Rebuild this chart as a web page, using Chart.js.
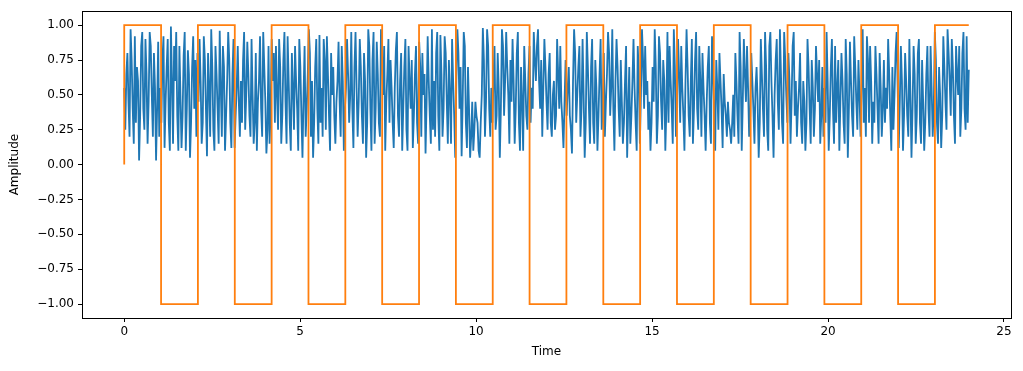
<!DOCTYPE html>
<html>
<head>
<meta charset="utf-8">
<script src="https://cdn.jsdelivr.net/npm/chart.js@4/dist/chart.umd.min.js"></script>
<style>
  body { margin: 0; background: #fff; }
</style>
</head>
<body>
<canvas id="signalChart" width="1023" height="371"></canvas>
<script>
// noisy signal (evenly spaced samples from t=0 to t=24)
const signalStart = 0;
const signalEnd = 24;
const signalValues = [
    0.55,0.25,0.65,0.80,0.45,0.20,0.97,0.75,0.40,0.15,0.92,0.30,0.70,0.60,0.03,0.35,0.85,0.95,0.40,0.25,0.90,0.65,0.15,0.45,0.95,0.85,0.50,0.20,0.80,0.55,0.03,0.40,0.88,0.20,0.55,0.30,0.75,0.92,0.12,0.45,0.70,0.90,0.30,0.10,0.99,0.60,0.15,0.85,0.60,0.95,0.35,0.10,0.85,0.50,0.12,0.35,0.78,0.95,0.10,0.40,0.82,0.65,0.05,0.30,0.70,0.92,0.40,0.75,0.20,0.80,
    0.45,0.90,0.60,0.15,0.30,0.92,0.75,0.40,0.06,0.80,0.55,0.20,0.97,0.70,0.25,0.10,0.85,0.65,0.40,0.15,0.96,0.55,0.20,0.85,0.70,0.10,0.35,0.60,0.95,0.75,0.30,0.12,0.65,0.90,0.12,0.35,0.55,0.85,0.45,0.20,0.60,0.30,0.75,0.95,0.25,0.50,0.88,0.65,0.35,0.20,0.90,0.50,0.15,0.30,0.80,0.10,0.45,0.60,0.92,0.40,0.20,0.95,0.70,0.45,0.08,0.25,0.85,0.15,0.40,0.90,0.60,0.80,0.30,0.85,
    0.50,0.25,0.90,0.70,0.15,0.35,0.75,0.95,0.45,0.15,0.92,0.60,0.30,0.10,0.80,0.55,0.25,0.85,0.60,0.40,0.10,0.90,0.70,0.35,0.05,0.50,0.85,0.20,0.40,0.65,0.97,0.80,0.20,0.60,0.05,0.30,0.70,0.90,0.40,0.15,0.93,0.30,0.55,0.20,0.90,0.75,0.25,0.92,0.65,0.35,0.10,0.80,0.50,0.70,0.35,0.15,0.45,0.60,0.88,0.45,0.20,0.85,0.60,0.10,0.40,0.55,0.90,0.65,0.30,0.50,0.95,0.40,0.12,0.70,
    0.95,0.55,0.20,0.45,0.90,0.70,0.35,0.15,0.80,0.60,0.05,0.30,0.97,0.85,0.40,0.10,0.75,0.95,0.15,0.40,0.88,0.65,0.30,0.20,0.97,0.75,0.50,0.85,0.10,0.45,0.65,0.90,0.30,0.75,0.55,0.30,0.12,0.55,0.82,0.95,0.35,0.20,0.60,0.80,0.10,0.40,0.70,0.90,0.25,0.10,0.85,0.60,0.40,0.75,0.12,0.35,0.65,0.85,0.30,0.15,0.88,0.70,0.20,0.80,0.50,0.65,0.08,0.45,0.92,0.60,0.35,0.15,0.97,0.25,
    0.60,0.20,0.80,0.95,0.35,0.10,0.93,0.65,0.20,0.40,0.92,0.80,0.45,0.15,0.75,0.50,0.15,0.90,0.60,0.35,0.05,0.60,0.97,0.80,0.40,0.70,0.06,0.45,0.95,0.85,0.30,0.12,0.70,0.40,0.05,0.20,0.45,0.10,0.25,0.45,0.35,0.30,0.10,0.05,0.30,0.50,0.98,0.75,0.20,0.45,0.97,0.85,0.40,0.20,0.55,0.30,0.60,0.85,0.25,0.35,0.80,0.55,0.05,0.40,0.97,0.85,0.35,0.60,0.95,0.70,0.50,0.15,0.75,0.45,
    0.90,0.60,0.15,0.40,0.80,0.95,0.30,0.10,0.70,0.45,0.10,0.85,0.60,0.35,0.25,0.65,0.85,0.30,0.55,0.40,0.95,0.75,0.60,0.85,0.97,0.60,0.40,0.75,0.20,0.55,0.90,0.70,0.45,0.25,0.65,0.80,0.30,0.20,0.50,0.60,0.25,0.35,0.90,0.65,0.40,0.85,0.45,0.30,0.12,0.45,0.75,0.35,0.55,0.70,0.35,0.25,0.08,0.60,0.97,0.80,0.30,0.50,0.70,0.85,0.20,0.40,0.90,0.50,0.05,0.30,0.95,0.70,0.40,0.15,
    0.70,0.90,0.30,0.15,0.75,0.55,0.10,0.35,0.65,0.90,0.25,0.40,0.80,0.20,0.45,0.65,0.95,0.80,0.35,0.55,0.97,0.40,0.10,0.60,0.90,0.70,0.40,0.20,0.75,0.45,0.15,0.30,0.60,0.85,0.05,0.40,0.70,0.15,0.35,0.60,0.90,0.55,0.30,0.10,0.85,0.65,0.15,0.50,0.97,0.75,0.40,0.85,0.50,0.60,0.25,0.45,0.10,0.30,0.70,0.45,0.97,0.70,0.15,0.35,0.92,0.80,0.45,0.25,0.75,0.60,0.10,0.40,0.95,0.30,
    0.85,0.60,0.40,0.15,0.97,0.70,0.20,0.45,0.90,0.65,0.30,0.85,0.55,0.35,0.10,0.60,0.97,0.70,0.35,0.20,0.60,0.90,0.15,0.40,0.75,0.95,0.40,0.25,0.85,0.60,0.20,0.80,0.55,0.35,0.10,0.45,0.70,0.85,0.30,0.15,0.92,0.65,0.40,0.10,0.75,0.55,0.25,0.80,0.60,0.40,0.12,0.65,0.45,0.35,0.20,0.45,0.30,0.25,0.15,0.30,0.50,0.20,0.80,0.60,0.35,0.15,0.95,0.70,0.10,0.45,0.90,0.65,0.45,0.85,
    0.55,0.20,0.35,0.80,0.60,0.40,0.15,0.55,0.70,0.45,0.05,0.30,0.90,0.65,0.40,0.20,0.95,0.70,0.25,0.10,0.85,0.95,0.60,0.35,0.05,0.50,0.75,0.90,0.45,0.25,0.97,0.65,0.30,0.15,0.95,0.75,0.50,0.30,0.80,0.60,0.15,0.45,0.85,0.95,0.35,0.60,0.20,0.40,0.55,0.80,0.30,0.15,0.60,0.45,0.10,0.30,0.90,0.70,0.40,0.15,0.75,0.55,0.20,0.40,0.85,0.65,0.45,0.75,0.15,0.35,0.70,0.20,0.55,0.30,
    0.95,0.60,0.10,0.35,0.70,0.90,0.40,0.15,0.85,0.30,0.55,0.75,0.10,0.45,0.80,0.60,0.30,0.15,0.90,0.65,0.05,0.40,0.88,0.60,0.35,0.20,0.92,0.70,0.45,0.25,0.75,0.50,0.20,0.60,0.97,0.30,0.55,0.20,0.92,0.75,0.30,0.85,0.60,0.15,0.45,0.30,0.85,0.65,0.40,0.15,0.80,0.55,0.20,0.40,0.75,0.30,0.55,0.40,0.90,0.65,0.35,0.10,0.70,0.25,0.50,0.80,0.95,0.55,0.12,0.45,0.85,0.60,0.10,0.35,
    0.80,0.60,0.35,0.20,0.90,0.50,0.05,0.40,0.85,0.65,0.15,0.35,0.80,0.90,0.30,0.15,0.75,0.45,0.10,0.30,0.65,0.85,0.40,0.20,0.85,0.55,0.20,0.40,0.95,0.75,0.30,0.15,0.70,0.50,0.12,0.35,0.92,0.70,0.45,0.25,0.97,0.80,0.60,0.35,0.90,0.70,0.35,0.15,0.85,0.65,0.50,0.85,0.20,0.40,0.80,0.95,0.40,0.25,0.92,0.30,0.68
];

// square wave: switching times and the level held after each switch
const squareEdges = [0, 1.047, 2.094, 3.142, 4.189, 5.236, 6.283, 7.330, 8.378, 9.425, 10.472, 11.519,
    12.566, 13.614, 14.661, 15.708, 16.755, 17.802, 18.850, 19.897, 20.944, 21.991, 23.038];
const squareLevels = [1, -1, 1, -1, 1, -1, 1, -1, 1, -1, 1, -1, 1, -1, 1, -1, 1, -1, 1, -1, 1, -1, 1];

const xTicks = [0, 5, 10, 15, 20, 25];
const yTicks = [-1, -0.75, -0.5, -0.25, 0, 0.25, 0.5, 0.75, 1];

const step = (signalEnd - signalStart) / (signalValues.length - 1);
const signalPoints = signalValues.map((v, i) => ({x: signalStart + i * step, y: v}));

const squarePoints = [{x: 0, y: 0}];
let prevLevel = 0;
squareEdges.forEach((t, i) => {
    squarePoints.push({x: t, y: prevLevel});
    squarePoints.push({x: t, y: squareLevels[i]});
    prevLevel = squareLevels[i];
});
squarePoints.push({x: signalEnd, y: prevLevel});

const font = {family: "DejaVu Sans", size: 12};

const framePlugin = {
    id: "frame",
    afterDraw(chart) {
        const {ctx, chartArea: a} = chart;
        ctx.save();
        ctx.strokeStyle = "#000";
        ctx.lineWidth = 1;
        ctx.strokeRect(Math.round(a.left) + 0.5, Math.round(a.top) + 0.5,
            Math.round(a.right - a.left), Math.round(a.bottom - a.top));
        ctx.restore();
    }
};

const ctx = document.getElementById("signalChart").getContext("2d");
new Chart(ctx, {
    type: "line",
    data: {
        datasets: [
            {
                label: "square",
                data: squarePoints,
                borderColor: "#ff7f0e",
                borderWidth: 1.8,
                pointRadius: 0,
                tension: 0
            },
            {
                label: "signal",
                data: signalPoints,
                borderColor: "#1f77b4",
                borderWidth: 1.8,
                pointRadius: 0,
                tension: 0
            }
        ]
    },
    options: {
        responsive: false,
        animation: false,
        events: [],
        layout: {padding: {left: 0, right: 12, top: 10, bottom: 0}},
        plugins: {legend: {display: false}, tooltip: {enabled: false}},
        scales: {
            x: {
                type: "linear",
                min: -1.2,
                max: 25.2,
                afterBuildTicks: s => { s.ticks = xTicks.map(v => ({value: v})); },
                afterFit: s => { s.height = 53; },
                grid: {drawOnChartArea: false, drawTicks: true, tickLength: 4, color: "#000"},
                border: {display: false},
                ticks: {font, color: "#000", padding: 3, maxRotation: 0, callback: v => String(v)},
                title: {display: true, text: "Time", font, color: "#000", padding: {top: 0, bottom: 12}}
            },
            y: {
                type: "linear",
                min: -1.1,
                max: 1.1,
                afterBuildTicks: s => { s.ticks = yTicks.map(v => ({value: v})); },
                afterFit: s => { s.width = 82; },
                grid: {drawOnChartArea: false, drawTicks: true, tickLength: 4, color: "#000"},
                border: {display: false},
                ticks: {font, color: "#000", padding: 4, callback: v => v.toFixed(2).replace("-", "\u2212")},
                title: {display: true, text: "Amplitude", font, color: "#000", padding: {top: 8, bottom: 0}}
            }
        }
    },
    plugins: [framePlugin]
});
</script>
</body>
</html>
